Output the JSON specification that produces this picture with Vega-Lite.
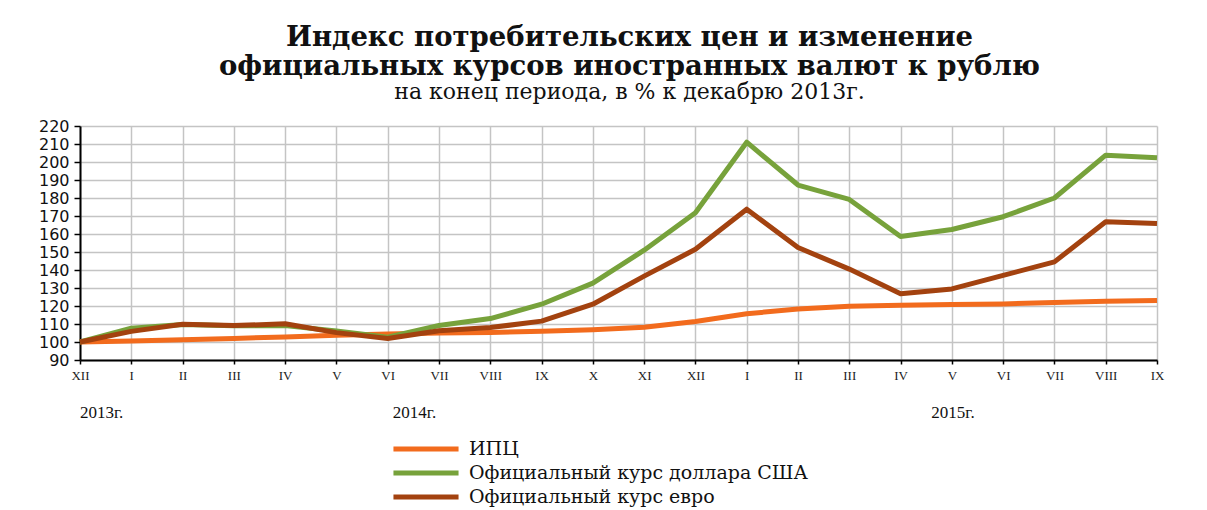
{
  "$schema": "https://vega.github.io/schema/vega-lite/v6.json",
  "autosize": {"type": "none"},
  "width": 1077,
  "height": 234,
  "padding": {"left": 80, "top": 126, "right": 50, "bottom": 150},
  "background": "white",
  "title": {
    "text": ["Индекс потребительских цен и изменение", "официальных курсов иностранных валют к рублю"],
    "subtitle": "на конец периода, в % к декабрю 2013г.",
    "anchor": "middle",
    "dx": 11,
    "offset": 15,
    "font": "DejaVu Serif",
    "fontSize": 27.5,
    "fontWeight": "bold",
    "lineHeight": 29,
    "color": "#111111",
    "subtitleFont": "DejaVu Serif",
    "subtitleFontSize": 22,
    "subtitleColor": "#111111",
    "subtitlePadding": 2
  },
  "datasets": {
    "series": [
      {"t": 0, "s": "ИПЦ", "v": 100},
      {"t": 1, "s": "ИПЦ", "v": 100.6},
      {"t": 2, "s": "ИПЦ", "v": 101.3},
      {"t": 3, "s": "ИПЦ", "v": 102.0},
      {"t": 4, "s": "ИПЦ", "v": 102.8},
      {"t": 5, "s": "ИПЦ", "v": 103.7},
      {"t": 6, "s": "ИПЦ", "v": 104.4},
      {"t": 7, "s": "ИПЦ", "v": 105.0},
      {"t": 8, "s": "ИПЦ", "v": 105.3},
      {"t": 9, "s": "ИПЦ", "v": 106.0},
      {"t": 10, "s": "ИПЦ", "v": 106.8},
      {"t": 11, "s": "ИПЦ", "v": 108.2},
      {"t": 12, "s": "ИПЦ", "v": 111.4},
      {"t": 13, "s": "ИПЦ", "v": 115.7},
      {"t": 14, "s": "ИПЦ", "v": 118.3},
      {"t": 15, "s": "ИПЦ", "v": 119.9},
      {"t": 16, "s": "ИПЦ", "v": 120.4},
      {"t": 17, "s": "ИПЦ", "v": 120.8},
      {"t": 18, "s": "ИПЦ", "v": 121.1},
      {"t": 19, "s": "ИПЦ", "v": 122.0},
      {"t": 20, "s": "ИПЦ", "v": 122.6},
      {"t": 21, "s": "ИПЦ", "v": 123.0},
      {"t": 0, "s": "Официальный курс доллара США", "v": 100},
      {"t": 1, "s": "Официальный курс доллара США", "v": 107.7},
      {"t": 2, "s": "Официальный курс доллара США", "v": 109.7},
      {"t": 3, "s": "Официальный курс доллара США", "v": 109.0},
      {"t": 4, "s": "Официальный курс доллара США", "v": 109.1},
      {"t": 5, "s": "Официальный курс доллара США", "v": 106.1},
      {"t": 6, "s": "Официальный курс доллара США", "v": 102.7},
      {"t": 7, "s": "Официальный курс доллара США", "v": 109.2},
      {"t": 8, "s": "Официальный курс доллара США", "v": 113.0},
      {"t": 9, "s": "Официальный курс доллара США", "v": 121.0},
      {"t": 10, "s": "Официальный курс доллара США", "v": 132.7},
      {"t": 11, "s": "Официальный курс доллара США", "v": 151.0},
      {"t": 12, "s": "Официальный курс доллара США", "v": 171.8},
      {"t": 13, "s": "Официальный курс доллара США", "v": 211.0},
      {"t": 14, "s": "Официальный курс доллара США", "v": 187.2},
      {"t": 15, "s": "Официальный курс доллара США", "v": 179.2},
      {"t": 16, "s": "Официальный курс доллара США", "v": 158.6},
      {"t": 17, "s": "Официальный курс доллара США", "v": 162.5},
      {"t": 18, "s": "Официальный курс доллара США", "v": 169.6},
      {"t": 19, "s": "Официальный курс доллара США", "v": 180.0},
      {"t": 20, "s": "Официальный курс доллара США", "v": 203.8},
      {"t": 21, "s": "Официальный курс доллара США", "v": 202.3},
      {"t": 0, "s": "Официальный курс евро", "v": 100},
      {"t": 1, "s": "Официальный курс евро", "v": 105.9},
      {"t": 2, "s": "Официальный курс евро", "v": 109.9},
      {"t": 3, "s": "Официальный курс евро", "v": 109.1},
      {"t": 4, "s": "Официальный курс евро", "v": 110.1},
      {"t": 5, "s": "Официальный курс евро", "v": 105.2},
      {"t": 6, "s": "Официальный курс евро", "v": 101.9},
      {"t": 7, "s": "Официальный курс евро", "v": 106.3},
      {"t": 8, "s": "Официальный курс евро", "v": 108.0},
      {"t": 9, "s": "Официальный курс евро", "v": 111.6},
      {"t": 10, "s": "Официальный курс евро", "v": 121.0},
      {"t": 11, "s": "Официальный курс евро", "v": 136.6},
      {"t": 12, "s": "Официальный курс евро", "v": 151.5},
      {"t": 13, "s": "Официальный курс евро", "v": 173.8},
      {"t": 14, "s": "Официальный курс евро", "v": 152.5},
      {"t": 15, "s": "Официальный курс евро", "v": 140.5},
      {"t": 16, "s": "Официальный курс евро", "v": 126.8},
      {"t": 17, "s": "Официальный курс евро", "v": 129.5},
      {"t": 18, "s": "Официальный курс евро", "v": 137.0},
      {"t": 19, "s": "Официальный курс евро", "v": 144.5},
      {"t": 20, "s": "Официальный курс евро", "v": 166.8},
      {"t": 21, "s": "Официальный курс евро", "v": 165.8}
    ],
    "years": [
      {"t": 0, "label": "2013г."},
      {"t": 6.1, "label": "2014г."},
      {"t": 16.6, "label": "2015г."}
    ]
  },
  "layer": [
    {
      "data": {"name": "series"},
      "mark": {"type": "line", "strokeWidth": 5, "strokeJoin": "round"},
      "encoding": {
        "x": {
          "field": "t", "type": "quantitative",
          "scale": {"domain": [0, 21], "nice": false, "zero": false},
          "axis": {
            "title": null,
            "values": [0,1,2,3,4,5,6,7,8,9,10,11,12,13,14,15,16,17,18,19,20,21],
            "tickCount": 30,
            "labelExpr": "['XII','I','II','III','IV','V','VI','VII','VIII','IX','X','XI','XII','I','II','III','IV','V','VI','VII','VIII','IX'][datum.value]",
            "labelFont": "Liberation Serif",
            "labelFontSize": 13,
            "labelColor": "#222222",
            "labelPadding": 5,
            "labelFlush": false,
            "labelOverlap": false,
            "tickSize": 4,
            "tickColor": "#000000",
            "tickWidth": 1.5,
            "domainColor": "#000000",
            "domainWidth": 2,
            "grid": true,
            "gridColor": "#c4c4c4",
            "gridWidth": 1.5
          }
        },
        "y": {
          "field": "v", "type": "quantitative",
          "scale": {"domain": [90, 220], "nice": false, "zero": false},
          "axis": {
            "title": null,
            "values": [90,100,110,120,130,140,150,160,170,180,190,200,210,220],
            "tickCount": 20,
            "labelFont": "DejaVu Sans",
            "labelFontSize": 16,
            "labelColor": "#111111",
            "labelPadding": 5,
            "labelOverlap": false,
            "labelFlush": false,
            "tickSize": 6,
            "tickColor": "#000000",
            "tickWidth": 1.5,
            "domainColor": "#000000",
            "domainWidth": 2,
            "grid": true,
            "gridColor": "#c4c4c4",
            "gridWidth": 1.5
          }
        },
        "color": {
          "field": "s", "type": "nominal",
          "scale": {
            "domain": ["ИПЦ", "Официальный курс доллара США", "Официальный курс евро"],
            "range": ["#F26B1D", "#77A23B", "#A3420F"]
          },
          "legend": {
            "title": null,
            "orient": "none",
            "legendX": 333,
            "legendY": 310,
            "symbolType": "M-3.1,0H3.1",
            "symbolSize": 441,
            "symbolStrokeWidth": 5,
            "labelFont": "DejaVu Serif",
            "labelFontSize": 19,
            "labelColor": "#111111",
            "labelOffset": 30,
            "labelLimit": 500,
            "rowPadding": 1
          }
        }
      }
    },
    {
      "data": {"name": "years"},
      "mark": {"type": "text", "align": "left", "baseline": "alphabetic", "font": "Liberation Serif", "fontSize": 17, "color": "#111111"},
      "encoding": {
        "x": {"field": "t", "type": "quantitative"},
        "y": {"datum": 57.8},
        "text": {"field": "label"}
      }
    }
  ],
  "config": {
    "view": {"stroke": null}
  }
}
